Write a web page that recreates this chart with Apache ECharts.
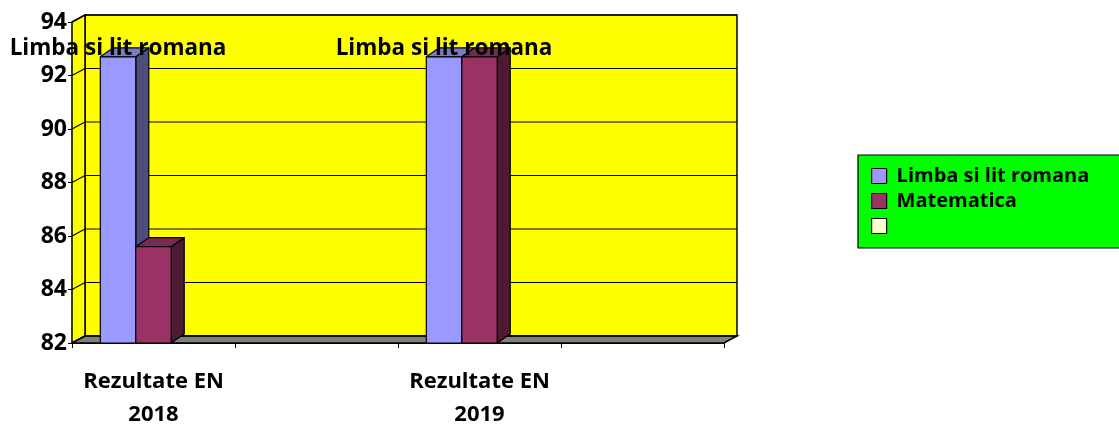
<!DOCTYPE html>
<html>
<head>
<meta charset="utf-8">
<script src="https://cdn.jsdelivr.net/npm/echarts@6/dist/echarts.min.js"></script>
<style>
html,body{margin:0;padding:0;background:#fff;}
#chart{width:1119px;height:426px;}
</style>
</head>
<body>
<div id="chart"></div>
<script>
// ---- data ----
const categories = ['Rezultate EN\n2018', '', 'Rezultate EN\n2019', ''];
const seriesNames = ['Limba si lit romana', 'Matematica', ' '];
const romana = [92.7, null, 92.7, null];
const matematica = [85.6, null, 92.7, null];
const third = [null, null, null, null];
const yTicks = [82, 84, 86, 88, 90, 92, 94];
const dataLabelText = 'Limba si lit romana';

// ---- style ----
const FONT = '"Open Sans", "Noto Sans", sans-serif';
const DX = 13, DY = -7;      // wall depth
const BDX = 13, BDY = -9;    // bar depth
const faces = [
  { front: '#9999FF', top: '#7a7acc', side: '#4d4d80' },
  { front: '#993366', top: '#7a2952', side: '#4d1a33' },
  { front: '#FFFFCC', top: '#cccca3', side: '#808066' }
];

const yMin = yTicks[0], yMax = yTicks[yTicks.length - 1];

function toData(arr) { return arr.map((v, i) => [i, v]); }

function barGeom(api, slot) {
  const v = api.value(1);
  if (v === null || v === undefined || isNaN(v)) return null;
  const cat = api.value(0);
  const base = api.coord([cat, yMin]);
  const top = api.coord([cat, v]);
  const band = api.size([1, 0])[0];
  const bw = band * 0.2175;
  const left = base[0] + (slot - 1) * bw - bw / 2;
  return { left, bw, topY: top[1], baseY: base[1] };
}

function barRender(slot) {
  const f = faces[slot];
  return function (params, api) {
    const g = barGeom(api, slot);
    if (!g) return;
    const { left, bw, topY, baseY } = g;
    const st = { stroke: '#000', lineWidth: 1.2, lineJoin: 'round' };
    return {
      type: 'group',
      children: [
        { type: 'polygon', shape: { points: [[left + bw, topY], [left + bw + BDX, topY + BDY], [left + bw + BDX, baseY + BDY], [left + bw, baseY]] },
          style: Object.assign({ fill: f.side }, st) },
        { type: 'polygon', shape: { points: [[left, topY], [left + BDX, topY + BDY], [left + bw + BDX, topY + BDY], [left + bw, topY]] },
          style: Object.assign({ fill: f.top }, st) },
        { type: 'rect', shape: { x: left, y: topY, width: bw, height: baseY - topY },
          style: Object.assign({ fill: f.front }, st) }
      ]
    };
  };
}

function labelRender(params, api) {
  const g = barGeom(api, 0);
  if (!g) return;
  return {
    type: 'text',
    style: {
      text: dataLabelText,
      x: g.left + g.bw / 2,
      y: g.topY - 8,
      align: 'center',
      verticalAlign: 'middle',
      fontFamily: FONT,
      fontWeight: 'bold',
      fontSize: 22.5,
      fill: '#000'
    }
  };
}

function wallRender(params, api) {
  const cs = params.coordSys;
  const x = cs.x, y = cs.y, w = cs.width, h = cs.height;
  const st = { stroke: '#000', lineWidth: 1.5 };
  const children = [
    { type: 'rect', shape: { x: x + DX, y: y + DY, width: w, height: h },
      style: Object.assign({ fill: '#FFFF00' }, st) },
    { type: 'polygon', shape: { points: [[x, y], [x + DX, y + DY], [x + DX, y + h + DY], [x, y + h]] },
      style: Object.assign({ fill: '#FFFF00' }, st) },
    { type: 'polygon', shape: { points: [[x, y + h], [x + DX, y + h + DY], [x + w + DX, y + h + DY], [x + w, y + h]] },
      style: Object.assign({ fill: '#808080' }, st) }
  ];
  yTicks.forEach(t => {
    const c = api.coord([0, t])[1];
    children.push({ type: 'line', shape: { x1: x + DX, y1: c + DY, x2: x + w + DX, y2: c + DY }, style: { stroke: '#000', lineWidth: 1.2 } });
    children.push({ type: 'line', shape: { x1: x, y1: c, x2: x + DX, y2: c + DY }, style: { stroke: '#000', lineWidth: 1.2 } });
  });
  return { type: 'group', children };
}

const chart = echarts.init(document.getElementById('chart'), null, { renderer: 'canvas' });
chart.setOption({
  backgroundColor: '#fff',
  animation: false,
  grid: { left: 72, right: 395, top: 22, bottom: 83, containLabel: false, outerBoundsMode: 'none' },
  xAxis: {
    type: 'category',
    data: categories,
    boundaryGap: true,
    axisLine: { show: true, lineStyle: { color: '#000', width: 1.2 } },
    axisTick: { show: true, interval: 0, length: 5, lineStyle: { color: '#000' } },
    axisLabel: {
      interval: 0, margin: 22, lineHeight: 33,
      fontFamily: FONT, fontWeight: 'bold', fontSize: 22, color: '#000'
    },
    splitLine: { show: false }
  },
  yAxis: {
    type: 'value',
    min: yMin, max: yMax, interval: 2,
    axisLine: { show: true, lineStyle: { color: '#000', width: 1.2 } },
    axisTick: { show: true, length: 4, lineStyle: { color: '#000' } },
    axisLabel: { margin: 5, fontFamily: FONT, fontWeight: 'bold', fontSize: 23, color: '#000' },
    splitLine: { show: false }
  },
  legend: {
    orient: 'vertical',
    left: 858, top: 155,
    data: seriesNames,
    icon: 'rect',
    itemWidth: 15, itemHeight: 15, itemGap: 5,
    backgroundColor: '#00FF00',
    borderColor: '#000', borderWidth: 1.2,
    borderRadius: 0,
    padding: [11, 80, 12, 13],
    itemStyle: { borderColor: '#000', borderWidth: 1.2 },
    textStyle: { fontFamily: FONT, fontWeight: 'bold', fontSize: 20, color: '#000', padding: [0, 0, 0, 5] },
    selectedMode: false
  },
  series: [
    { type: 'custom', name: '__walls', z: 1, silent: true, renderItem: wallRender, data: [[0, yMin]] },
    { type: 'custom', name: seriesNames[0], z: 2, renderItem: barRender(0), itemStyle: { color: faces[0].front }, data: toData(romana) },
    { type: 'custom', name: seriesNames[1], z: 2, renderItem: barRender(1), itemStyle: { color: faces[1].front }, data: toData(matematica) },
    { type: 'custom', name: seriesNames[2], z: 2, renderItem: barRender(2), itemStyle: { color: faces[2].front }, data: toData(third) },
    { type: 'custom', name: '__labels', z: 3, silent: true, renderItem: labelRender, data: toData(romana) }
  ]
});
</script>
</body>
</html>
